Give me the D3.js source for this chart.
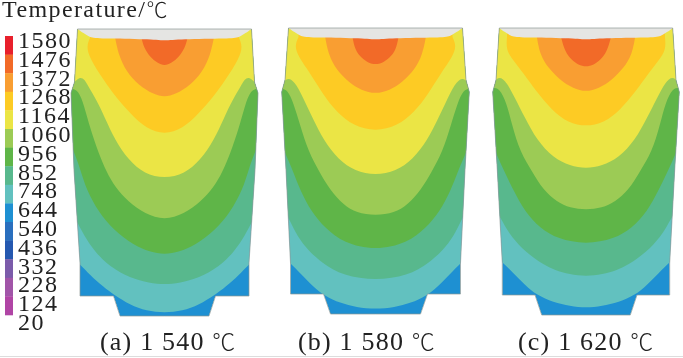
<!DOCTYPE html>
<html>
<head>
<meta charset="utf-8">
<script src="https://cdn.jsdelivr.net/npm/d3@7"></script>
<style>
  html, body { margin: 0; padding: 0; background: #fff; }
  svg { display: block; filter: blur(0.45px); }
  text { font-family: "Liberation Serif", serif; fill: #222; }
  .deg { font-family: "Noto Sans CJK SC", sans-serif; font-weight: 300; }
</style>
</head>
<body>
<div id="chart"></div>
<script>
// Legend values and colours (colour i fills the cell between label i and i+1)
const tickLabels = [1580, 1476, 1372, 1268, 1164, 1060, 956, 852, 748, 644, 540, 436, 332, 228, 124, 20];
const legendColors = ["#e8202c", "#f26a28", "#f99e32", "#fdcb24", "#ebe545", "#9ccb55", "#5fb548", "#58b88d",
  "#62c1bf", "#1e90d2", "#2a6fbe", "#2558b0", "#7b5baa", "#a155a8", "#b045a5"];
const panelTitles = ["(a) 1 540 ", "(b) 1 580 ", "(c) 1 620 "];

// Ingot section, right half: [half width, depth] in px
const outlineA = [[87, 0], [90, 53], [93.5, 64], [90.5, 141], [84.5, 234], [84.5, 267], [51, 267], [44.5, 287], [0, 287]];
const outlineB = [[87, 0], [90.5, 52], [93.8, 64], [89.5, 142], [85, 235], [85, 266], [52, 266], [45, 286], [0, 286]];
const outlineC = [[86.7, 0], [90, 52], [93.3, 64], [88.7, 142], [83.7, 235], [83.7, 267], [51, 267], [44.3, 287], [0, 287]];
const slagEdge = [[87, 0], [81, 4], [75, 8.5], [65, 9.5], [15, 10], [0, 12]];

// Isotherms, hottest region last. Each is the lower edge of the zone above that temperature.
const bandTemps = [644, 748, 852, 956, 1060, 1164, 1268, 1372];
const bandsA = [
  [[100, 222], [84.5, 235], [74.5, 246], [61, 258], [50.5, 266], [34.5, 276], [18, 282], [0, 284]],
  [[100, 172], [88, 191], [81, 206], [69.5, 223], [54.5, 238], [34.5, 249], [15, 254], [0, 255.5]],
  [[100, 100], [90, 124], [84, 141], [78, 161], [66, 183], [51, 201], [31, 216], [14.5, 223], [0, 225.5]],
  [[100, 60], [92, 59], [86, 62], [80.5, 76], [74.5, 99], [66, 124], [58, 143], [49.5, 158], [36, 173], [19.5, 185], [0, 191.5]],
  [[100, 62], [89, 52], [84.5, 48], [80, 50], [76, 58], [68, 71], [59.5, 89], [49.5, 111], [36, 131], [20, 145], [0, 149.5]],
  [[74.5, 9], [78, 17], [75, 29], [61, 51], [48, 69], [34.5, 84], [18, 100], [0, 105.5]],
  [[49.5, 8], [46, 26], [38, 43], [26, 56], [11, 65.5], [0, 68]],
  [[23, 9], [20.5, 19], [14.5, 28], [7, 34], [0, 37]]
];
const bandsB = [
  [[100, 222], [85, 235], [75.5, 245], [62, 259], [50.5, 268], [35.5, 275], [19, 279.5], [0, 281]],
  [[100, 168], [88, 187], [80.5, 204], [70.5, 219], [54, 235], [32, 248], [0, 252.5]],
  [[100, 100], [91, 124], [82, 144], [75.5, 162], [64, 184], [50.5, 200], [32, 215], [0, 222.5]],
  [[100, 62], [94, 60], [88, 62], [82, 75], [75.5, 97], [67, 124], [56, 144], [45.5, 162], [32, 177], [19, 185], [0, 187.5]],
  [[100, 62], [92, 54], [87, 49], [79, 56], [70.5, 74], [62, 92], [52, 112], [37, 132], [20.5, 143], [0, 147.5]],
  [[77, 9], [81, 18], [77, 29], [65.5, 45], [52, 67], [39, 84], [22, 98], [0, 103.5]],
  [[50.5, 8], [47, 27], [39, 42], [27, 54], [14, 62.5], [0, 66]],
  [[23, 9], [20.5, 22], [14, 30], [7, 35], [0, 36.5]]
];
const bandsC = [
  [[100, 220], [83.7, 234], [72.7, 245], [61, 257], [49.3, 267], [32.7, 274.5], [16, 278], [0, 280]],
  [[100, 168], [86.7, 187], [79.3, 202], [67.7, 217], [52.7, 230], [32.7, 243], [0, 250]],
  [[100, 100], [90, 125], [81, 145], [72.7, 162], [61, 184], [46, 200], [28.3, 211], [0, 216.5]],
  [[100, 60], [93, 60], [86.7, 60], [79.3, 75], [74, 97], [66, 124], [53.5, 144], [42.7, 162], [29, 174], [16, 180], [0, 182]],
  [[100, 62], [92, 54], [86.7, 48], [79.3, 54], [71, 70], [61, 90], [49.3, 112], [32.7, 130], [16, 138], [0, 140.5]],
  [[79, 9], [80, 22], [73, 32], [62.7, 45], [49.3, 64], [34.3, 82], [17.7, 95], [0, 98.5]],
  [[49.3, 8], [46, 27], [37.7, 40], [26, 52], [12.7, 60.5], [0, 64]],
  [[25, 9], [21, 24], [14.3, 32], [7.7, 37], [0, 39]]
];
const panelOutlines = [outlineA, outlineB, outlineC];
const panelBands = [bandsA, bandsB, bandsC];

const width = 683, height = 358;
const panelCenters = [164.5, 375.5, 586];
const panelTop = [29, 28, 28];
const titleX = [100, 298, 518];

const svg = d3.select("#chart").append("svg")
  .attr("width", width)
  .attr("height", height);

svg.append("rect").attr("width", width).attr("height", height).attr("fill", "#fff");
// scan edge at the bottom of the page
svg.append("line").attr("x1", 0).attr("x2", width).attr("y1", 356.5).attr("y2", 356.5)
  .attr("stroke", "#ddd");

// mirror a right-half edge (ending on the axis) into a full left-to-right edge
const mirror = pts => pts.map(d => [-d[0], d[1]]).concat(pts.slice().reverse().slice(1));

// band colour by its lower temperature
const bandColor = t => legendColors[tickLabels.indexOf(t) - 1];

panelBands.forEach((bands, p) => {
  const x = d3.scaleLinear().domain([-100, 100]).range([panelCenters[p] - 100, panelCenters[p] + 100]);
  const y = d3.scaleLinear().domain([0, 300]).range([panelTop[p], panelTop[p] + 300]);
  const straight = d3.line().x(d => x(d[0])).y(d => y(d[1]));
  // basis spline irons out the reading noise in the hand-read points
  const smooth = d3.line().x(d => x(d[0])).y(d => y(d[1])).curve(d3.curveBasis);

  const outlinePath = straight(mirror(panelOutlines[p])) + "Z";
  svg.append("clipPath").attr("id", "ingot" + p).append("path").attr("d", outlinePath);

  const g = svg.append("g").attr("clip-path", "url(#ingot" + p + ")");
  g.append("path").attr("d", outlinePath).attr("fill", legendColors[9]);

  bands.forEach((edge, i) => {
    // close each zone straight up to the top of the section
    const h = edge[0][0];
    g.append("path")
      .attr("d", smooth(mirror(edge)) + "L" + x(h) + "," + y(0) + "L" + x(-h) + "," + y(0) + "Z")
      .attr("fill", bandColor(bandTemps[i]));
  });

  g.append("path").attr("d", smooth(mirror(slagEdge)) + "Z").attr("fill", "#e5e5e3");

  svg.append("path").attr("d", outlinePath)
    .attr("fill", "none").attr("stroke", "#8d9a96").attr("stroke-width", 0.7);

  const title = svg.append("text")
    .attr("x", titleX[p]).attr("y", 350)
    .attr("font-size", 26).attr("letter-spacing", 1.2)
    .text(panelTitles[p]);
  title.append("tspan").attr("class", "deg").attr("font-size", 23).text("℃");
});

// Legend
const legendY = d3.scaleLinear().domain([0, legendColors.length]).range([36, 315]);
svg.selectAll(".cell").data(legendColors).enter().append("rect")
  .attr("class", "cell")
  .attr("x", 5).attr("width", 8)
  .attr("y", (d, i) => legendY(i))
  .attr("height", (d, i) => legendY(i + 1) - legendY(i) + 0.3)
  .attr("fill", d => d);

const labelY = d3.scaleLinear().domain([0, tickLabels.length - 1]).range([40, 322]);
svg.selectAll(".tick").data(tickLabels).enter().append("text")
  .attr("class", "tick")
  .attr("x", 18)
  .attr("y", (d, i) => labelY(i) + 8)
  .attr("font-size", 24).attr("letter-spacing", 1.5)
  .text(d => d);

const heading = svg.append("text")
  .attr("x", 2).attr("y", 17)
  .attr("font-size", 24).attr("letter-spacing", 1.4)
  .text("Temperature/");
heading.append("tspan").attr("class", "deg").attr("font-size", 21).text("℃");
</script>
</body>
</html>
